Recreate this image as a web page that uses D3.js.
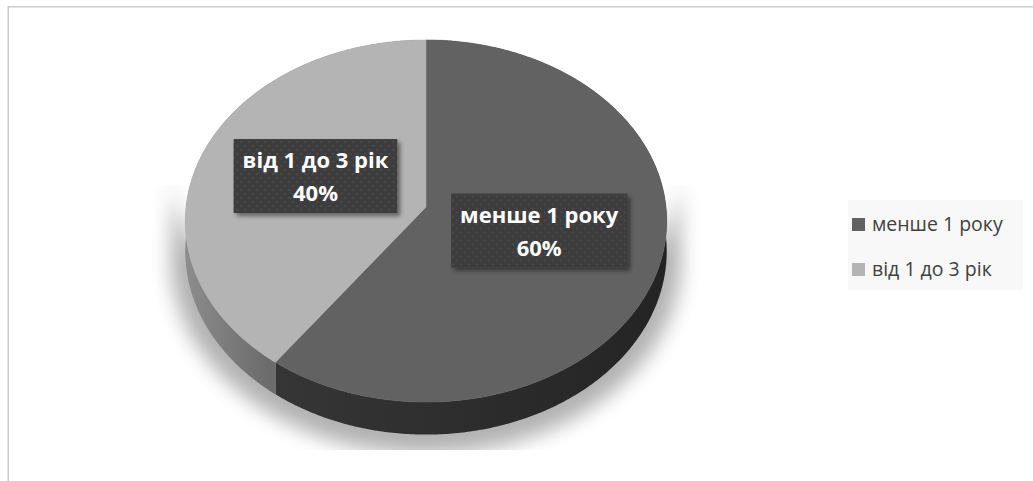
<!DOCTYPE html>
<html>
<head>
<meta charset="utf-8">
<script src="https://cdn.jsdelivr.net/npm/d3@7"></script>
<style>
  body { margin: 0; background: #fff; }
  svg { display: block; font-family: "Open Sans", "Noto Sans", sans-serif; }
</style>
</head>
<body>
<svg id="chart" width="1033" height="481"></svg>
<script>
// data
const categories = ["менше 1 року", "від 1 до 3 рік"];
const values = [60, 40];
const percentLabels = ["60%", "40%"];

// colours (top face, side start, side end)
const topColor = d3.scaleOrdinal().domain(categories).range(["#626262", "#b4b4b4"]);
const sideColors = [["#363636", "#242424"], ["#8c8c8c", "#6c6c6c"]];

const svg = d3.select("#chart");
const defs = svg.append("defs");

// pie geometry (simple perspective projection of a disc)
const cx = 426, cy = 207, A = 240, B = 180, p = 0.0774, depth = 30;
function proj(theta, r, dz) {
  const u = r * Math.sin(theta), v = -r * Math.cos(theta);
  const w = 1 - p * v;
  return [cx + A * u / w, cy + (B * v + dz) / w];
}
function arcPts(a0, a1, r, dz) {
  const n = Math.max(2, Math.ceil((a1 - a0) / 0.01));
  return d3.range(n + 1).map(i => proj(a0 + (a1 - a0) * i / n, r, dz));
}
const line = d3.line().curve(d3.curveLinearClosed);

const arcs = d3.pie().sort(null)(values);

// frame
svg.append("rect")
    .attr("x", 8.25).attr("y", 6.75)
    .attr("width", 1200).attr("height", 600)
    .attr("fill", "none")
    .attr("stroke", "#cbcbcb")
    .attr("stroke-width", 1.5);

// shadow under pie
const blur = defs.append("filter").attr("id", "blur")
    .attr("x", "-20%").attr("y", "-20%").attr("width", "140%").attr("height", "140%");
blur.append("feGaussianBlur").attr("stdDeviation", 10);
defs.append("clipPath").attr("id", "shadowClip")
    .append("rect").attr("x", 150).attr("y", 185).attr("width", 550).attr("height", 265);

svg.append("g").attr("clip-path", "url(#shadowClip)")
  .append("path")
    .attr("d", line(arcPts(Math.PI / 2, 3 * Math.PI / 2, 1.06, depth + 4)
        .concat(arcPts(Math.PI / 2, 3 * Math.PI / 2, 1.06, -60).reverse())))
    .attr("transform", "translate(0,2)")
    .attr("fill", "#000")
    .attr("opacity", 0.3)
    .attr("filter", "url(#blur)");

// side walls
arcs.forEach((d, i) => {
  const g = defs.append("linearGradient").attr("id", "side" + i)
      .attr("gradientUnits", "userSpaceOnUse")
      .attr("x1", i === 0 ? 268 : 186).attr("x2", i === 0 ? 666 : 268)
      .attr("y1", 0).attr("y2", 0);
  g.append("stop").attr("offset", 0).attr("stop-color", sideColors[i][0]);
  g.append("stop").attr("offset", 1).attr("stop-color", sideColors[i][1]);
});
svg.append("g").selectAll("path")
  .data(arcs)
  .join("path")
    .attr("d", d => line(arcPts(d.startAngle, d.endAngle, 1, 0)
        .concat(arcPts(d.startAngle, d.endAngle, 1, depth).reverse())))
    .attr("fill", (d, i) => `url(#side${i})`);

// top faces
svg.append("g").selectAll("path")
  .data(arcs)
  .join("path")
    .attr("d", d => line([proj(0, 0, 0)].concat(arcPts(d.startAngle, d.endAngle, 1, 0))))
    .attr("fill", (d, i) => topColor(categories[i]))
    .attr("stroke", (d, i) => topColor(categories[i]))
    .attr("stroke-width", 0.5);

// data labels
const dots = defs.append("pattern").attr("id", "dots")
    .attr("patternUnits", "userSpaceOnUse").attr("width", 8).attr("height", 8);
dots.append("rect").attr("width", 8).attr("height", 8).attr("fill", "#3c3c3c");
dots.append("rect").attr("x", 1).attr("y", 1).attr("width", 1.6).attr("height", 1.6).attr("fill", "#545454");
dots.append("rect").attr("x", 5).attr("y", 5).attr("width", 1.6).attr("height", 1.6).attr("fill", "#545454");

const ds = defs.append("filter").attr("id", "boxShadow")
    .attr("x", "-10%").attr("y", "-10%").attr("width", "130%").attr("height", "140%");
ds.append("feDropShadow").attr("dx", 3).attr("dy", 3).attr("stdDeviation", 2)
    .attr("flood-color", "#000").attr("flood-opacity", 0.45);

const labels = svg.append("g").selectAll("g")
  .data(arcs)
  .join("g")
    .attr("transform", d => {
      const [x, y] = proj((d.startAngle + d.endAngle) / 2, 0.49, 0);
      return `translate(${x},${y - 4})`;
    });
const boxRect = labels.append("rect")
    .attr("fill", "url(#dots)")
    .attr("filter", "url(#boxShadow)");
labels.append("text")
    .attr("text-anchor", "middle")
    .attr("y", -8)
    .attr("fill", "#fff")
    .attr("font-weight", 700)
    .attr("font-size", 22)
    .text((d, i) => categories[i]);
labels.append("text")
    .attr("text-anchor", "middle")
    .attr("y", 25)
    .attr("fill", "#fff")
    .attr("font-weight", 700)
    .attr("font-size", 22)
    .text((d, i) => percentLabels[i]);
boxRect.each(function() {
  const tw = d3.select(this.parentNode).select("text").node().getComputedTextLength();
  d3.select(this)
      .attr("x", -tw / 2 - 9).attr("y", -37)
      .attr("width", tw + 18).attr("height", 74);
});

// legend
const legend = svg.append("g").attr("transform", "translate(848,200)");
legend.append("rect").attr("width", 175).attr("height", 90).attr("fill", "#f8f8f8");
const items = legend.selectAll("g.item")
  .data(categories)
  .join("g")
    .attr("class", "item")
    .attr("transform", (d, i) => `translate(4,${18 + i * 45})`);
items.append("rect")
    .attr("width", 13).attr("height", 13)
    .attr("fill", d => topColor(d));
items.append("text")
    .attr("x", 20).attr("y", 12.5)
    .attr("font-size", 19.5)
    .attr("fill", "#404040")
    .text(d => d);
</script>
</body>
</html>
